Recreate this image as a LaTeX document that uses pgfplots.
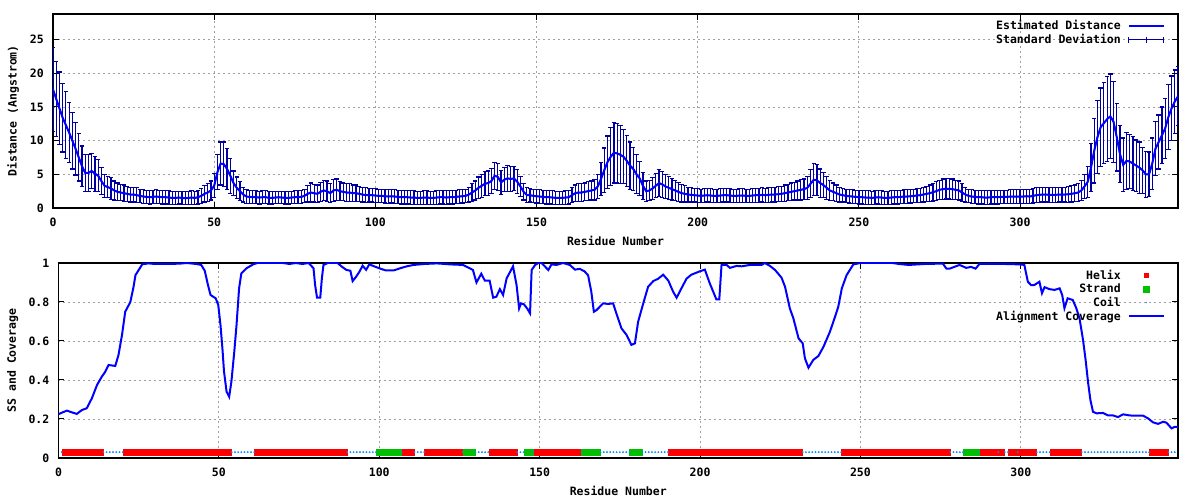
\documentclass[border=0pt]{standalone}
\usepackage{fontspec}
\setmainfont{DejaVu Sans Mono}
\usepackage{pgfplots}
\usepackage{pgfplotstable}
\pgfplotsset{compat=1.18}

\definecolor{gpblue}{RGB}{0,0,255}
\definecolor{gpnavy}{RGB}{0,0,160}
\definecolor{gpred}{RGB}{255,0,0}
\definecolor{gpgreen}{RGB}{0,192,0}
\definecolor{gpcoil}{RGB}{0,140,255}
\definecolor{gpgrid}{RGB}{160,160,160}

\newcommand{\gpfont}{\fontsize{11.5}{13}\selectfont\bfseries}

% estimated distance and standard deviation per residue
\pgfplotstableread[row sep=\\]{
x y e\\
0 17.6 6.2\\ 1 16.2 5.6\\ 2 14.8 5.4\\ 3 13.4 5.1\\ 4 12.3 5.0\\ 5 11.2 4.5\\ 6 10.0 4.2\\ 7 8.8 3.9\\ 8 7.5 3.5\\ 9 6.2 3.0\\
10 5.2 2.8\\ 11 5.2 2.7\\ 12 5.5 2.6\\ 13 5.1 2.6\\ 14 4.8 2.4\\ 15 4.0 2.0\\ 16 3.3 1.7\\ 17 3.1 1.6\\ 18 2.9 1.6\\ 19 2.6 1.4\\
20 2.4 1.3\\ 21 2.3 1.2\\ 22 2.2 1.2\\ 23 2.1 1.1\\ 24 2.0 1.1\\ 25 2.0 1.1\\ 26 1.9 1.1\\ 27 1.8 1.0\\ 28 1.7 1.0\\ 29 1.65 1.0\\
30 1.6 1.0\\ 31 1.65 1.0\\ 32 1.7 1.0\\ 33 1.65 1.0\\ 34 1.6 1.0\\ 35 1.6 1.0\\ 36 1.55 1.0\\ 37 1.5 1.0\\ 38 1.5 1.0\\ 39 1.55 0.95\\
40 1.5 0.95\\ 41 1.45 0.95\\ 42 1.5 0.95\\ 43 1.55 1.0\\ 44 1.5 1.0\\ 45 1.6 1.0\\ 46 1.8 1.1\\ 47 2.1 1.2\\ 48 2.3 1.3\\ 49 2.6 1.4\\
50 3.3 1.8\\ 51 5.3 2.6\\ 52 6.6 3.2\\ 53 6.5 3.3\\ 54 5.8 3.0\\ 55 4.8 2.6\\ 56 3.7 1.8\\ 57 3.0 1.6\\ 58 2.5 1.4\\ 59 2.0 1.1\\
60 1.7 1.0\\ 61 1.65 0.95\\ 62 1.6 0.95\\ 63 1.6 0.95\\ 64 1.55 0.95\\ 65 1.6 0.95\\ 66 1.6 0.95\\ 67 1.5 0.9\\ 68 1.5 0.9\\ 69 1.55 0.9\\
70 1.6 0.9\\ 71 1.55 0.9\\ 72 1.5 0.9\\ 73 1.5 0.9\\ 74 1.55 0.9\\ 75 1.6 0.95\\ 76 1.6 0.95\\ 77 1.65 0.95\\ 78 1.8 1.0\\ 79 2.1 1.2\\
80 2.3 1.4\\ 81 2.2 1.3\\ 82 2.1 1.3\\ 83 2.4 1.4\\ 84 2.6 1.5\\ 85 2.5 1.5\\ 86 2.2 1.4\\ 87 2.6 1.6\\ 88 2.7 1.6\\ 89 2.5 1.4\\
90 2.4 1.3\\ 91 2.3 1.3\\ 92 2.3 1.3\\ 93 2.2 1.2\\ 94 2.2 1.2\\ 95 2.1 1.1\\ 96 2.0 1.1\\ 97 1.9 1.1\\ 98 1.9 1.0\\ 99 1.9 1.0\\
100 1.85 1.0\\ 101 1.8 1.0\\ 102 1.8 1.0\\ 103 1.75 1.0\\ 104 1.7 1.0\\ 105 1.75 1.0\\ 106 1.7 1.0\\ 107 1.65 1.0\\ 108 1.6 1.0\\ 109 1.6 1.0\\
110 1.6 1.0\\ 111 1.55 1.0\\ 112 1.55 1.0\\ 113 1.5 1.0\\ 114 1.5 1.0\\ 115 1.55 1.0\\ 116 1.55 1.0\\ 117 1.5 1.0\\ 118 1.5 1.0\\ 119 1.55 1.0\\
120 1.6 1.0\\ 121 1.6 1.0\\ 122 1.55 1.0\\ 123 1.6 1.0\\ 124 1.6 1.0\\ 125 1.65 1.0\\ 126 1.7 1.0\\ 127 1.75 1.0\\ 128 1.8 1.0\\ 129 2.0 1.1\\
130 2.3 1.3\\ 131 2.6 1.4\\ 132 3.0 1.6\\ 133 3.3 1.7\\ 134 3.6 1.8\\ 135 3.7 1.8\\ 136 4.0 1.9\\ 137 4.8 2.0\\ 138 4.6 2.0\\ 139 3.8 1.8\\
140 4.2 1.8\\ 141 4.4 1.9\\ 142 4.3 1.9\\ 143 4.4 1.8\\ 144 3.9 1.8\\ 145 3.2 1.5\\ 146 2.4 1.2\\ 147 1.9 1.1\\ 148 1.9 1.0\\ 149 1.8 1.0\\
150 1.75 1.0\\ 151 1.7 1.0\\ 152 1.65 1.0\\ 153 1.6 1.0\\ 154 1.6 1.0\\ 155 1.55 1.0\\ 156 1.5 1.0\\ 157 1.5 1.0\\ 158 1.5 1.0\\ 159 1.55 1.0\\
160 1.6 1.0\\ 161 1.9 1.1\\ 162 2.2 1.2\\ 163 2.3 1.3\\ 164 2.3 1.3\\ 165 2.4 1.3\\ 166 2.5 1.4\\ 167 2.6 1.4\\ 168 2.7 1.5\\ 169 3.2 1.8\\
170 4.3 2.5\\ 171 5.6 3.3\\ 172 6.8 3.9\\ 173 7.6 4.3\\ 174 8.2 4.5\\ 175 8.1 4.4\\ 176 7.9 4.3\\ 177 7.6 4.0\\ 178 7.0 3.8\\ 179 6.3 3.5\\
180 5.8 3.2\\ 181 5.0 2.9\\ 182 4.4 2.5\\ 183 3.3 2.0\\ 184 2.5 1.5\\ 185 2.6 1.5\\ 186 2.9 1.6\\ 187 3.3 1.8\\ 188 3.7 2.0\\ 189 3.5 1.9\\
190 3.2 1.8\\ 191 3.0 1.7\\ 192 2.8 1.6\\ 193 2.6 1.5\\ 194 2.4 1.4\\ 195 2.2 1.3\\ 196 2.1 1.2\\ 197 2.0 1.1\\ 198 1.95 1.05\\ 199 1.9 1.0\\
200 1.85 1.0\\ 201 1.8 1.0\\ 202 1.85 1.0\\ 203 1.9 1.0\\ 204 1.85 1.0\\ 205 1.8 1.0\\ 206 1.8 1.0\\ 207 1.85 1.0\\ 208 1.9 1.0\\ 209 1.9 1.0\\
210 1.85 1.0\\ 211 1.8 1.0\\ 212 1.8 1.0\\ 213 1.85 1.0\\ 214 1.85 1.0\\ 215 1.8 1.0\\ 216 1.8 1.0\\ 217 1.85 1.0\\ 218 1.9 1.05\\ 219 1.9 1.05\\
220 1.95 1.05\\ 221 1.9 1.05\\ 222 1.95 1.1\\ 223 2.0 1.1\\ 224 2.0 1.1\\ 225 2.05 1.1\\ 226 2.1 1.1\\ 227 2.2 1.2\\ 228 2.3 1.2\\ 229 2.4 1.3\\
230 2.5 1.3\\ 231 2.6 1.4\\ 232 2.7 1.5\\ 233 2.8 1.5\\ 234 3.0 1.7\\ 235 3.6 2.1\\ 236 4.2 2.4\\ 237 4.1 2.3\\ 238 3.7 2.1\\ 239 3.4 1.9\\
240 3.0 1.7\\ 241 2.6 1.5\\ 242 2.4 1.3\\ 243 2.2 1.2\\ 244 2.0 1.1\\ 245 1.9 1.0\\ 246 1.8 1.0\\ 247 1.75 1.0\\ 248 1.7 1.0\\ 249 1.65 1.0\\
250 1.6 1.0\\ 251 1.6 1.0\\ 252 1.55 1.0\\ 253 1.55 1.0\\ 254 1.5 1.0\\ 255 1.55 1.0\\ 256 1.6 1.0\\ 257 1.55 1.0\\ 258 1.5 1.0\\ 259 1.5 1.0\\
260 1.55 1.0\\ 261 1.6 1.0\\ 262 1.6 1.0\\ 263 1.65 1.0\\ 264 1.7 1.0\\ 265 1.7 1.0\\ 266 1.75 1.0\\ 267 1.8 1.0\\ 268 1.85 1.0\\ 269 1.9 1.05\\
270 2.0 1.1\\ 271 2.1 1.1\\ 272 2.2 1.2\\ 273 2.35 1.3\\ 274 2.5 1.4\\ 275 2.7 1.4\\ 276 2.8 1.5\\ 277 2.85 1.5\\ 278 2.85 1.5\\ 279 2.8 1.5\\
280 2.7 1.4\\ 281 2.6 1.4\\ 282 2.3 1.3\\ 283 2.0 1.1\\ 284 1.8 1.0\\ 285 1.7 1.0\\ 286 1.65 1.0\\ 287 1.6 1.0\\ 288 1.6 1.0\\ 289 1.55 1.0\\
290 1.55 1.0\\ 291 1.6 1.0\\ 292 1.6 1.0\\ 293 1.6 1.0\\ 294 1.65 1.0\\ 295 1.65 1.0\\ 296 1.65 1.0\\ 297 1.7 1.0\\ 298 1.7 1.0\\ 299 1.7 1.0\\
300 1.7 1.0\\ 301 1.7 1.0\\ 302 1.75 1.05\\ 303 1.7 1.05\\ 304 1.8 1.05\\ 305 1.9 1.1\\ 306 1.95 1.1\\ 307 2.0 1.1\\ 308 2.0 1.1\\ 309 1.95 1.1\\
310 1.95 1.1\\ 311 1.95 1.1\\ 312 2.0 1.1\\ 313 2.0 1.1\\ 314 2.0 1.1\\ 315 2.05 1.2\\ 316 2.1 1.2\\ 317 2.2 1.2\\ 318 2.3 1.3\\ 319 2.6 1.5\\
320 3.2 1.8\\ 321 3.9 2.3\\ 322 6.0 3.6\\ 323 8.5 4.8\\ 324 10.5 5.4\\ 325 12.0 5.8\\ 326 12.6 6.0\\ 327 13.2 6.3\\ 328 13.6 6.3\\ 329 12.8 6.0\\
330 10.5 5.0\\ 331 8.0 4.2\\ 332 6.4 4.0\\ 333 7.0 4.2\\ 334 6.9 4.0\\ 335 6.6 4.0\\ 336 6.3 3.8\\ 337 6.0 3.8\\ 338 5.6 3.4\\ 339 5.0 3.4\\
340 5.0 3.3\\ 341 6.6 3.8\\ 342 8.8 4.0\\ 343 9.8 4.0\\ 344 10.8 4.2\\ 345 11.8 4.5\\ 346 13.5 4.8\\ 347 14.8 4.8\\ 348 15.8 4.7\\ 349 16.6 4.4\\
}\dist

% alignment coverage
\pgfplotstableread[row sep=\\]{
x c\\
0 0.225\\ 1 0.232\\ 2.6 0.243\\ 4 0.235\\ 5.7 0.226\\ 7.3 0.246\\ 8.8 0.255\\ 10.4 0.306\\ 12 0.374\\ 13.5 0.417\\
14.5 0.44\\ 15.6 0.477\\ 17.7 0.472\\ 18.7 0.528\\ 19.8 0.631\\ 20.8 0.75\\ 22.4 0.80\\ 23.4 0.878\\ 24 0.938\\ 25 0.964\\
26.1 0.993\\ 28 0.998\\ 30 0.995\\ 35 0.995\\ 38 0.997\\ 40 1.0\\ 43 0.995\\ 44.5 0.99\\ 45.6 0.96\\ 46.6 0.887\\
47.4 0.836\\ 49 0.819\\ 49.8 0.785\\ 50.5 0.682\\ 51.1 0.562\\ 51.6 0.443\\ 52.4 0.34\\ 53.2 0.314\\ 53.9 0.391\\ 54.8 0.545\\
55.5 0.682\\ 56.3 0.87\\ 57 0.947\\ 58.6 0.973\\ 60.7 0.993\\ 62 1.0\\ 70 1.0\\ 72 0.995\\ 74 1.0\\ 76 0.995\\
78 1.0\\ 79.5 0.973\\ 80 0.887\\ 80.6 0.822\\ 81.6 0.822\\ 82.1 0.92\\ 82.6 0.99\\ 84 1.0\\ 87 1.0\\ 88.2 0.983\\
89.7 0.965\\ 91 0.96\\ 91.7 0.907\\ 92.8 0.93\\ 93.8 0.955\\ 94.8 0.986\\ 95.9 0.965\\ 96.9 0.993\\ 98.4 0.983\\ 100.5 0.97\\
102 0.962\\ 104.5 0.962\\ 106.5 0.973\\ 108.6 0.983\\ 110.7 0.99\\ 114 0.995\\ 118 0.998\\ 122 0.993\\ 126.1 0.99\\ 128.2 0.973\\
129.2 0.964\\ 130.3 0.90\\ 131.8 0.945\\ 132.9 0.91\\ 134.4 0.91\\ 135.5 0.822\\ 136.5 0.827\\ 137.6 0.866\\ 138.6 0.836\\ 139.7 0.921\\
141.7 0.983\\ 142.8 0.887\\ 143.6 0.767\\ 144.2 0.793\\ 145.1 0.788\\ 146.1 0.767\\ 147 0.742\\ 147.5 0.964\\ 148.6 0.99\\ 149.6 1.0\\
150.6 1.0\\ 152.7 0.964\\ 153.7 0.993\\ 155.2 0.99\\ 157.3 1.0\\ 159.4 0.99\\ 161 0.966\\ 162.5 0.97\\ 164 0.957\\ 165.1 0.937\\
166.1 0.853\\ 166.9 0.75\\ 167.7 0.758\\ 169.8 0.793\\ 171.3 0.79\\ 172.9 0.793\\ 173.9 0.742\\ 175.5 0.665\\ 177.1 0.631\\ 178.6 0.58\\
179.7 0.588\\ 180.7 0.699\\ 182.3 0.793\\ 183.8 0.878\\ 185.4 0.907\\ 187 0.92\\ 188.5 0.94\\ 190.1 0.91\\ 191.6 0.853\\ 192.7 0.822\\
194.2 0.87\\ 195.8 0.92\\ 197.3 0.94\\ 199.9 0.957\\ 201.5 0.966\\ 203 0.897\\ 204.1 0.853\\ 205.1 0.813\\ 206 0.813\\ 206.7 0.99\\
208.3 0.99\\ 209.3 0.975\\ 211.4 0.985\\ 213 0.983\\ 215.5 0.99\\ 219.2 0.99\\ 220.2 1.0\\ 221.8 0.985\\ 223.4 0.964\\ 225.4 0.925\\
226.5 0.878\\ 228 0.767\\ 229.1 0.716\\ 230.7 0.614\\ 232 0.588\\ 232.7 0.511\\ 233.8 0.463\\ 235.3 0.503\\ 236.9 0.523\\ 238.5 0.571\\
240.5 0.648\\ 242.1 0.725\\ 243.1 0.776\\ 244.2 0.87\\ 245.7 0.938\\ 247.8 0.993\\ 250 1.0\\ 260 1.0\\ 262 0.995\\ 265 0.99\\
270 0.995\\ 275.7 0.997\\ 276.8 0.971\\ 277.8 0.971\\ 280.9 0.99\\ 283 0.975\\ 284.5 0.98\\ 285.9 0.971\\ 287.1 0.995\\ 291 0.995\\
295 0.995\\ 299.5 0.993\\ 301.1 0.99\\ 302.2 0.904\\ 303.2 0.887\\ 304.2 0.887\\ 305.8 0.904\\ 306.6 0.845\\ 307.4 0.876\\ 308.9 0.866\\
310.5 0.862\\ 312.1 0.87\\ 312.9 0.836\\ 313.6 0.768\\ 314.6 0.819\\ 316.2 0.81\\ 317.3 0.768\\ 318.3 0.716\\ 319.4 0.605\\ 320.2 0.503\\
321 0.383\\ 321.7 0.297\\ 322.5 0.237\\ 323.6 0.229\\ 325.6 0.231\\ 327.2 0.218\\ 328.8 0.218\\ 330.3 0.21\\ 331.9 0.224\\ 334 0.218\\
338.1 0.217\\ 339.7 0.203\\ 341.2 0.183\\ 342.8 0.175\\ 344.4 0.186\\ 345.4 0.181\\ 347 0.152\\ 348 0.16\\ 349 0.16\\
}\coverage

\pgfplotsset{
  gp/.style={
    scale only axis, anchor=south west,
    xmin=0, xmax=349, xtick={0,50,...,300},
    tick align=inside, major tick length=6pt,
    axis line style={line width=1.2pt, black},
    every tick/.style={black, line width=1pt},
    grid=major,
    major grid style={gpgrid, line width=0.9pt, dash pattern=on 2pt off 3pt},
    tick label style={font=\gpfont},
    /pgf/number format/assume math mode=true,
    xticklabel style={inner sep=0pt, yshift=-10pt},
    yticklabel style={inner sep=0pt, xshift=-9pt},
    label style={font=\gpfont},
    xlabel style={at={(axis description cs:0.5,0)}, anchor=north, inner sep=0pt, yshift=-28pt},
    ylabel style={at={(axis description cs:0,0.5)}, anchor=north, inner sep=0pt},
    legend cell align=right, legend plot pos=right,
  },
}

\begin{document}
\begin{tikzpicture}[font=\gpfont]
\useasboundingbox (0pt,0pt) rectangle (1200pt,500pt);

\begin{axis}[gp,
  at={(53pt,292pt)}, width=1125pt, height=194pt,
  ymin=0, ymax=28.8, ytick={0,5,...,25},
  xlabel={Residue Number}, ylabel={Distance (Angstrom)},
  ylabel style={yshift=46pt},
  legend style={draw=none, fill=none, at={(1,1)}, anchor=north east,
    xshift=-13pt, yshift=-6.2pt, inner sep=0pt, row sep=3.2pt, column sep=7pt,
    nodes={inner sep=0pt}, font=\gpfont},
]
\addplot[gpnavy, line width=1.2pt, mark=none, forget plot,
  error bars/.cd, y dir=both, y explicit,
  error bar style={line width=1.2pt, gpnavy},
  error mark options={rotate=90, mark size=2.2pt, line width=1.2pt, gpnavy}]
  table[x=x, y=y, y error=e] {\dist};
\addplot[gpblue, line width=2pt, mark=none, forget plot] table[x=x, y=y] {\dist};
\addlegendimage{legend image code/.code={\draw[gpblue, line width=2pt] (0pt,0pt) -- (35pt,0pt);}}
\addlegendentry{Estimated Distance}
\addlegendimage{legend image code/.code={\draw[gpnavy, line width=1pt] (0pt,0pt) -- (35pt,0pt)
  (0pt,-3pt) -- (0pt,3pt) (17.5pt,-3pt) -- (17.5pt,3pt) (35pt,-3pt) -- (35pt,3pt);}}
\addlegendentry{Standard Deviation}
\end{axis}

\begin{axis}[gp,
  at={(58.5pt,42pt)}, width=1119.5pt, height=195pt,
  ymin=0, ymax=1, ytick={0,0.2,...,1},
  xlabel={Residue Number}, ylabel={SS and Coverage},
  ylabel style={yshift=51.5pt},
  legend style={draw=none, fill=none, at={(1,1)}, anchor=north east,
    xshift=-13pt, yshift=-7.2pt, inner sep=0pt, row sep=2.8pt, column sep=7pt,
    nodes={inner sep=0pt}, font=\gpfont},
]
% helix
\addplot[gpred, only marks, mark=square*, mark size=2.8pt, forget plot]
coordinates {
(2,.03)(3,.03)(4,.03)(5,.03)(6,.03)(7,.03)(8,.03)(9,.03)(10,.03)(11,.03)(12,.03)(13,.03)
(21,.03)(22,.03)(23,.03)(24,.03)(25,.03)(26,.03)(27,.03)(28,.03)(29,.03)(30,.03)(31,.03)
(32,.03)(33,.03)(34,.03)(35,.03)(36,.03)(37,.03)(38,.03)(39,.03)(40,.03)(41,.03)(42,.03)
(43,.03)(44,.03)(45,.03)(46,.03)(47,.03)(48,.03)(49,.03)(50,.03)(51,.03)(52,.03)(53,.03)
(62,.03)(63,.03)(64,.03)(65,.03)(66,.03)(67,.03)(68,.03)(69,.03)(70,.03)(71,.03)(72,.03)
(73,.03)(74,.03)(75,.03)(76,.03)(77,.03)(78,.03)(79,.03)(80,.03)(81,.03)(82,.03)(83,.03)
(84,.03)(85,.03)(86,.03)(87,.03)(88,.03)(89,.03)
(108,.03)(109,.03)(110,.03)
(115,.03)(116,.03)(117,.03)(118,.03)(119,.03)(120,.03)(121,.03)(122,.03)(123,.03)(124,.03)(125,.03)
(135,.03)(136,.03)(137,.03)(138,.03)(139,.03)(140,.03)(141,.03)(142,.03)
(149,.03)(150,.03)(151,.03)(152,.03)(153,.03)(154,.03)(155,.03)(156,.03)(157,.03)(158,.03)
(159,.03)(160,.03)(161,.03)(162,.03)
(191,.03)(192,.03)(193,.03)(194,.03)(195,.03)(196,.03)(197,.03)(198,.03)(199,.03)(200,.03)
(201,.03)(202,.03)(203,.03)(204,.03)(205,.03)(206,.03)(207,.03)(208,.03)(209,.03)(210,.03)
(211,.03)(212,.03)(213,.03)(214,.03)(215,.03)(216,.03)(217,.03)(218,.03)(219,.03)(220,.03)
(221,.03)(222,.03)(223,.03)(224,.03)(225,.03)(226,.03)(227,.03)(228,.03)(229,.03)(230,.03)(231,.03)
(245,.03)(246,.03)(247,.03)(248,.03)(249,.03)(250,.03)(251,.03)(252,.03)(253,.03)(254,.03)
(255,.03)(256,.03)(257,.03)(258,.03)(259,.03)(260,.03)(261,.03)(262,.03)(263,.03)(264,.03)
(265,.03)(266,.03)(267,.03)(268,.03)(269,.03)(270,.03)(271,.03)(272,.03)(273,.03)(274,.03)
(275,.03)(276,.03)(277,.03)
(288,.03)(289,.03)(290,.03)(291,.03)(292,.03)(294,.03)(297,.03)(298,.03)
(300,.03)(301,.03)(302,.03)(303,.03)(304,.03)
(310,.03)(311,.03)(312,.03)(313,.03)(314,.03)(315,.03)(316,.03)(317,.03)(318,.03)
(341,.03)(342,.03)(343,.03)(344,.03)(345,.03)
};
% strand
\addplot[gpgreen, only marks, mark=square*, mark size=3pt, forget plot]
coordinates {
(100,.03)(101,.03)(102,.03)(103,.03)(104,.03)(105,.03)(106,.03)
(127,.03)(128,.03)(129,.03)(146,.03)(147,.03)
(164,.03)(165,.03)(166,.03)(167,.03)(168,.03)
(179,.03)(180,.03)(181,.03)
(283,.03)(284,.03)(285,.03)(286,.03)
};
% coil
\addplot[gpcoil, only marks, mark=*, mark size=0.7pt, forget plot]
coordinates {
(1,.03)(14,.03)(15,.03)(16,.03)(17,.03)(18,.03)(19,.03)(20,.03)
(54,.03)(55,.03)(56,.03)(57,.03)(58,.03)(59,.03)(60,.03)(61,.03)
(90,.03)(91,.03)(92,.03)(93,.03)(94,.03)(95,.03)(96,.03)(97,.03)(98,.03)(99,.03)
(107,.03)(111,.03)(112,.03)(113,.03)(114,.03)(126,.03)
(130,.03)(131,.03)(132,.03)(133,.03)(134,.03)(143,.03)(144,.03)(145,.03)(148,.03)(163,.03)
(169,.03)(170,.03)(171,.03)(172,.03)(173,.03)(174,.03)(175,.03)(176,.03)(177,.03)(178,.03)
(182,.03)(183,.03)(184,.03)(185,.03)(186,.03)(187,.03)(188,.03)(189,.03)(190,.03)
(232,.03)(233,.03)(234,.03)(235,.03)(236,.03)(237,.03)(238,.03)(239,.03)(240,.03)
(241,.03)(242,.03)(243,.03)(244,.03)
(278,.03)(279,.03)(280,.03)(281,.03)(282,.03)(287,.03)(293,.03)(295,.03)(296,.03)(299,.03)
(305,.03)(306,.03)(307,.03)(308,.03)(309,.03)
(319,.03)(320,.03)(321,.03)(322,.03)(323,.03)(324,.03)(325,.03)(326,.03)(327,.03)(328,.03)
(329,.03)(330,.03)(331,.03)(332,.03)(333,.03)(334,.03)(335,.03)(336,.03)(337,.03)(338,.03)
(339,.03)(340,.03)(346,.03)(347,.03)(348,.03)
};
% alignment coverage
\addplot[gpblue, line width=2pt, mark=none, forget plot] table[x=x, y=c] {\coverage};

\addlegendimage{legend image code/.code={\path[draw=none, fill=none] (0pt,0pt) -- (35pt,0pt);
  \fill[gpred, draw=none] (15pt,-2.5pt) rectangle (20pt,2.5pt);}}
\addlegendentry{Helix}
\addlegendimage{legend image code/.code={\path[draw=none, fill=none] (0pt,0pt) -- (35pt,0pt);
  \fill[gpgreen, draw=none] (14pt,-3.5pt) rectangle (21pt,3.5pt);}}
\addlegendentry{Strand}
\addlegendimage{legend image code/.code={\path[draw=none, fill=none] (0pt,0pt) -- (35pt,0pt);
  \fill[gpcoil, draw=none] (17.5pt,0pt) circle (0.7pt);}}
\addlegendentry{Coil}
\addlegendimage{legend image code/.code={\draw[gpblue, line width=2pt] (0pt,0pt) -- (35pt,0pt);}}
\addlegendentry{Alignment Coverage}
\end{axis}
\end{tikzpicture}
\end{document}
